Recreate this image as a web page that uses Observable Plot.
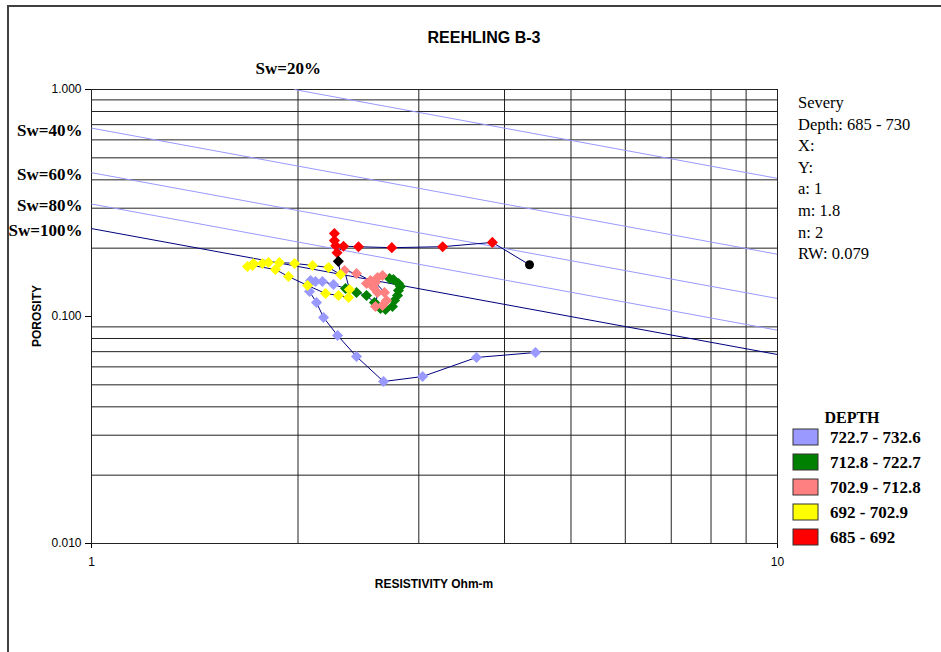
<!DOCTYPE html>
<html><head><meta charset="utf-8">
<script src="https://cdn.jsdelivr.net/npm/d3@7"></script>
<script src="https://cdn.jsdelivr.net/npm/@observablehq/plot@0.6"></script>
<style>
body{margin:0;background:#fff}
#chart{position:relative;width:941px;height:652px;overflow:hidden}
#outer{position:absolute;left:7px;top:5px;width:940px;height:660px;border-top:2px solid #404040;border-left:2px solid #404040}
#chart svg{position:absolute;left:0;top:0}
</style>
</head><body><div id="chart"><div id="outer"></div></div>
<script>
// ---- data ----
const groups = ["722.7 - 732.6","712.8 - 722.7","702.9 - 712.8","692 - 702.9","685 - 692"];
const groupColors = ["#9999ff","#008000","#ff8080","#ffff00","#ff0000"];

const startR = [4.35], startPhi = [0.169];          // black circle (top of interval)
const redR   = [3.84,3.25,2.74,2.45,2.33,2.28,2.27,2.26,2.26];
const redPhi = [0.212,0.203,0.201,0.203,0.204,0.191,0.205,0.216,0.232];
const markR  = [2.29], markPhi = [0.175];           // black diamond
const yellowR   = [2.307,2.216,2.100,1.977,1.879,1.811,1.775,1.722,1.688,1.717,1.854,1.937,2.065,2.194,2.291,2.370,2.377];
const yellowPhi = [0.1531,0.1644,0.1678,0.1713,0.1729,0.1729,0.1713,0.1713,0.1661,0.1678,0.161,0.150,0.137,0.1263,0.1238,0.1213,0.1315];
const pinkR   = [2.338,2.434,2.551,2.517,2.577,2.612,2.594,2.656,2.692,2.674,2.594,2.612,2.656];
const pinkPhi = [0.1594,0.1547,0.1441,0.1397,0.1342,0.1276,0.1107,0.1118,0.1176,0.1276,0.1412,0.1485,0.1516];
const greenR   = [2.719,2.755,2.802,2.821,2.802,2.793,2.765,2.746,2.683,2.638,2.585,2.517,2.434,2.346];
const greenPhi = [0.1470,0.1455,0.1397,0.1356,0.1302,0.1238,0.1176,0.1107,0.1074,0.1085,0.1152,0.1238,0.1276,0.1329];
const blueR   = [2.253,2.171,2.121,2.086,2.072,2.079,2.128,2.179,2.284,2.434,2.665,3.038,3.641,4.438];
const bluePhi = [0.1383,0.1426,0.1426,0.1441,0.1383,0.1288,0.1152,0.0990,0.0825,0.0666,0.0517,0.0544,0.0660,0.0694];

const swLabels = ["Sw=20%","Sw=40%","Sw=60%","Sw=80%","Sw=100%"];
const swR1   = [1.975,1,1,1,1];
const swPhi1 = [1.0,0.676,0.43,0.313,0.244];
const swR2   = [10,10,10,10,10];
const swPhi2 = [0.406,0.188,0.12,0.087,0.068];
const swColors = ["#9999ff","#9999ff","#9999ff","#9999ff","#000080"];

const xTicks = [1,10];
const yTicks = [0.01,0.1,1];
const xGridVals = [2,3,4,5,6,7,8,9];
const yGridVals = [0.02,0.03,0.04,0.05,0.06,0.07,0.08,0.09,0.2,0.3,0.4,0.5,0.6,0.7,0.8,0.9];

const infoLines = ["Severy","Depth: 685 - 730","X:","Y:","a: 1","m: 1.8","n: 2","RW: 0.079"];
const title = "REEHLING B-3";

// ---- tables ----
const toRows = (R,P,group) => R.map((r,i)=>({r, phi:P[i], group}));
const red = toRows(redR,redPhi,groups[4]);
const yellow = toRows(yellowR,yellowPhi,groups[3]);
const pink = toRows(pinkR,pinkPhi,groups[2]);
const green = toRows(greenR,greenPhi,groups[1]);
const blue = toRows(blueR,bluePhi,groups[0]);
const start = toRows(startR,startPhi,"start");
const mark = toRows(markR,markPhi,"mark");
const path = [...start,...red,...mark,...yellow,...pink,...green,...blue];
const pts = [...blue,...green,...pink,...yellow,...red];
const sw = swLabels.map((l,i)=>({l, r1:swR1[i], p1:swPhi1[i], r2:swR2[i], p2:swPhi2[i], c:swColors[i]}));

const serif = "'Liberation Serif','Times New Roman',serif";
const sans = "'Liberation Sans',Arial,sans-serif";

const plot = Plot.plot({
  width: 941, height: 652,
  marginLeft: 91, marginRight: 164, marginTop: 89, marginBottom: 109,
  style: {fontFamily: sans, fontSize: "12px", background: "transparent", color:"#000", overflow:"visible"},
  x: {type:"log", domain:[1,10], ticks:xTicks, tickFormat:d=>String(d), label:null, tickSize:5, tickPadding:9},
  y: {type:"log", domain:[0.01,1], ticks:yTicks, tickFormat:d=>d3.format(".3f")(d), label:null, tickSize:6, tickPadding:4},
  color: {domain: groups, range: groupColors},
  marks: [
    Plot.gridX(xGridVals, {stroke:"#222", strokeOpacity:1, strokeWidth:1}),
    Plot.gridY(yGridVals, {stroke:"#222", strokeOpacity:1, strokeWidth:1}),
    Plot.frame({stroke:"#222"}),
    Plot.link(sw, {x1:"r1", y1:"p1", x2:"r2", y2:"p2", stroke:"c", strokeWidth:1, clip:true}),
    Plot.text(sw.slice(1), {x:"r1", y:"p1", text:"l", textAnchor:"end", dx:-9, dy:2, fontFamily:serif, fontWeight:"bold", fontSize:17, fill:"#000"}),
    Plot.text(sw.slice(0,1), {x:"r1", y:"p1", text:"l", dx:-6, dy:-21, fontFamily:serif, fontWeight:"bold", fontSize:17, fill:"#000"}),
    Plot.line(path, {x:"r", y:"phi", stroke:"#000080", strokeWidth:1}),
    Plot.dot(pts, {x:"r", y:"phi", fill:"group", symbol:"diamond2", r:5, stroke:null}),
    Plot.dot(mark, {x:"r", y:"phi", fill:"#000", symbol:"diamond2", r:5}),
    Plot.dot(start, {x:"r", y:"phi", fill:"#000", symbol:"circle", r:4.5})
  ]
});

const svg = d3.select(plot);
const txt = (x,y,t,opts={}) => svg.append("text").attr("x",x).attr("y",y)
  .attr("text-anchor",opts.anchor||"start").attr("font-family",opts.family||serif)
  .attr("font-weight",opts.weight||"normal").attr("font-size",opts.size||16).attr("fill","#000").text(t);

txt(484,43,title,{anchor:"middle",family:sans,weight:"bold",size:16});
svg.append("text").attr("transform","translate(41,316) rotate(-90)").attr("text-anchor","middle")
  .attr("font-family",sans).attr("font-weight","bold").attr("font-size",12).text("POROSITY");
txt(434,588,"RESISTIVITY Ohm-m",{anchor:"middle",family:sans,weight:"bold",size:12});

infoLines.forEach((t,i)=> txt(798,108+i*21.6,t,{size:16.5}));

txt(852,423,"DEPTH",{anchor:"middle",weight:"bold",size:16});
groups.forEach((g,i)=>{
  const cy = 437 + i*25;
  svg.append("rect").attr("x",793).attr("y",cy-8).attr("width",25).attr("height",16)
    .attr("fill",groupColors[i]).attr("stroke","#333").attr("stroke-width",1);
  txt(830,cy+6,g,{weight:"bold",size:17});
});

document.getElementById("chart").appendChild(plot);
</script>
</body></html>
